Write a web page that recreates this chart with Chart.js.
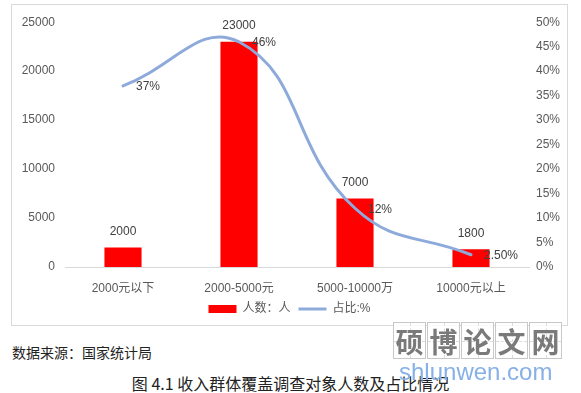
<!DOCTYPE html>
<html>
<head>
<meta charset="utf-8">
<script src="https://cdn.jsdelivr.net/npm/chart.js@4/dist/chart.umd.min.js"></script>
<style>
  html, body { margin: 0; padding: 0; background: #fff; width: 581px; height: 393px; overflow: hidden; position: relative; font-family: 'Noto Sans CJK SC', sans-serif; }
  #frame { position: absolute; left: 11px; top: 4px; width: 555px; height: 320px; border: 1px solid #d9d9d9; }
  #wrap { position: absolute; left: 0; top: 0; width: 555px; height: 320px; }
  #src { position: absolute; left: 12px; top: 342px; font-size: 14px; color: #222; white-space: nowrap; line-height: 20px; }
  #cap { position: absolute; left: 0; width: 581px; top: 373px; font-size: 16px; color: #222; text-align: center; white-space: nowrap; line-height: 20px; }
  #wm { position: absolute; left: 393px; top: 322px; height: 37px; display: flex; gap: 1px; }
  .bx { width: 33px; height: 37px; border: 1px solid #c8c8c8; box-sizing: border-box; position: relative; background: rgba(255,255,255,0.85);
        font-size: 28px; font-weight: bold; color: #7a7a7a; text-align: center; line-height: 36px; }
  .bx::before { content: ''; position: absolute; left: 50%; top: 0; bottom: 0; border-left: 1px dashed #dcdcdc; }
  .bx::after { content: ''; position: absolute; top: 50%; left: 0; right: 0; border-top: 1px dashed #dcdcdc; }
  .bx span { position: relative; z-index: 1; }
  #wmurl { position: absolute; left: 399px; top: 358px; font-size: 24px; color: #86b0e6; font-family: 'Liberation Sans', sans-serif; line-height: 28px; }
</style>
</head>
<body>
<div id="frame"><div id="wrap"><canvas id="c" width="555" height="320"></canvas></div></div>
<div id="src">数据来源：国家统计局</div>
<div id="cap">图 4.1 收入群体覆盖调查对象人数及占比情况</div>
<div id="wm"><div class="bx"><span>硕</span></div><div class="bx"><span>博</span></div><div class="bx"><span>论</span></div><div class="bx"><span>文</span></div><div class="bx"><span>网</span></div></div>
<div id="wmurl">shlunwen.com</div>
<script>
const categories = ['2000元以下', '2000-5000元', '5000-10000万', '10000元以上'];
const peopleCounts = [2000, 23000, 7000, 1800];
const sharePercent = [37, 46, 12, 2.5];
const seriesNames = ['人数：人', '占比:%'];

Chart.defaults.font.family = "'Liberation Sans', 'Noto Sans CJK SC', sans-serif";
Chart.defaults.font.size = 12;
Chart.defaults.color = '#595959';

const fmtPct = v => (v % 1 ? v.toFixed(2) : String(v)) + '%';

const labelPlugin = {
  id: 'valueLabels',
  afterDatasetsDraw(chart) {
    const ctx = chart.ctx;
    ctx.save();
    ctx.font = "12px 'Liberation Sans', sans-serif";
    ctx.fillStyle = '#404040';
    ctx.textBaseline = 'middle';
    chart.data.datasets.forEach((ds, di) => {
      const meta = chart.getDatasetMeta(di);
      meta.data.forEach((el, i) => {
        if (ds.type === 'bar') {
          ctx.textAlign = 'center';
          ctx.fillText(String(ds.data[i]), el.x, el.y - 16);
        } else {
          ctx.textAlign = 'left';
          ctx.fillText(fmtPct(ds.data[i]), el.x + 13, el.y + 1);
        }
      });
    });
    ctx.restore();
  }
};

new Chart(document.getElementById('c'), {
  data: {
    labels: categories,
    datasets: [
      { type: 'bar', label: seriesNames[0], data: peopleCounts, backgroundColor: '#ff0000',
        yAxisID: 'y', barPercentage: 0.32, categoryPercentage: 1, order: 2 },
      { type: 'line', label: seriesNames[1], data: sharePercent, borderColor: '#8eaadb', borderWidth: 3,
        pointRadius: 0, tension: 0.45, yAxisID: 'y1', order: 1, borderCapStyle: 'round' }
    ]
  },
  options: {
    responsive: false,
    animation: false,
    devicePixelRatio: 1,
    layout: { padding: { top: 13, left: 0, right: 0, bottom: 0 } },
    plugins: {
      tooltip: { enabled: false },
      legend: {
        position: 'bottom',
        labels: {
          usePointStyle: true, pointStyleWidth: 28, boxHeight: 8, padding: 8,
          color: '#595959', font: { size: 12 },
          generateLabels(chart) {
            const items = Chart.defaults.plugins.legend.labels.generateLabels(chart);
            items.sort((a, b) => a.datasetIndex - b.datasetIndex);
            items.forEach(it => {
              const ds = chart.data.datasets[it.datasetIndex];
              if (ds.type === 'bar') { it.pointStyle = 'rect'; it.lineWidth = 0; it.strokeStyle = 'rgba(0,0,0,0)'; }
              else { it.pointStyle = 'line'; it.lineWidth = 3; it.strokeStyle = '#8eaadb'; }
            });
            return items;
          }
        }
      }
    },
    scales: {
      x: {
        grid: { display: false },
        border: { display: true, color: '#d9d9d9' },
        ticks: { padding: 6, color: '#595959' },
        afterFit(s) { s.height = 28; }
      },
      y: {
        position: 'left', min: 0, max: 25000,
        ticks: { stepSize: 5000, padding: 10, color: '#595959', callback: v => String(v) },
        grid: { display: false, drawTicks: false },
        border: { display: false },
        afterFit(s) { s.width = 53; }
      },
      y1: {
        position: 'right', min: 0, max: 50,
        ticks: { stepSize: 5, padding: 7, color: '#595959', callback: v => v + '%' },
        grid: { display: false, drawTicks: false },
        border: { display: false },
        afterFit(s) { s.width = 38; }
      }
    }
  },
  plugins: [labelPlugin]
});
</script>
</body>
</html>
